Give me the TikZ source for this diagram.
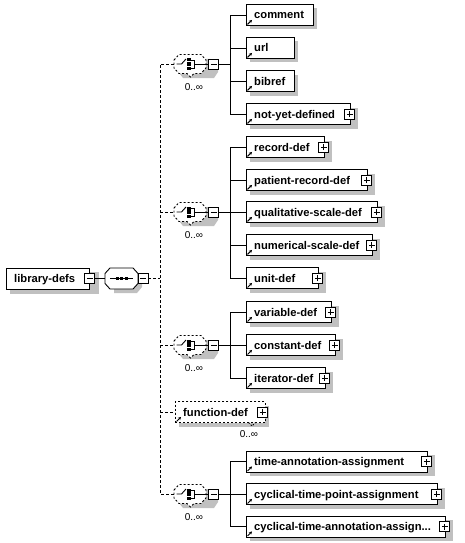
\documentclass[tikz,border=0pt]{standalone}
\usepackage{fontspec}
\setmainfont{Liberation Sans}
\usetikzlibrary{arrows.meta}
\definecolor{shg}{RGB}{192,192,192}
\tikzset{
  x=1pt,y=-1pt,
  shadowfill/.style={fill=shg,draw=none},
  ebox/.style={draw,fill=white,line width=0.9pt,minimum height=21pt,inner sep=0pt,anchor=west},
  fbox/.style={ebox,dash pattern=on 2pt off 2pt},
  etext/.style={font=\bfseries\fontsize{11.2}{13}\selectfont,anchor=base west,inner sep=0pt},
  occ/.style={font=\fontsize{10}{12}\selectfont,inner sep=0pt},
  pmbase/.style={draw,fill=white,line width=0.9pt,minimum size=10pt,inner sep=0pt},
  minusbox/.style={pmbase,path picture={\draw[line width=0.9pt] ([xshift=2pt]path picture bounding box.west) -- ([xshift=-2pt]path picture bounding box.east);}},
  plusbox/.style={pmbase,path picture={\draw[line width=0.9pt] ([xshift=2pt]path picture bounding box.west) -- ([xshift=-2pt]path picture bounding box.east) ([yshift=2pt]path picture bounding box.south) -- ([yshift=-2pt]path picture bounding box.north);}},
  wire/.style={line width=0.9pt},
  dwire/.style={line width=0.9pt,dash pattern=on 3pt off 2pt},
  refarrow/.style={line width=1pt,-{Stealth[length=3pt,width=3.2pt]}},
  compbox/.style={rectangle,draw=none,minimum width=32pt,minimum height=21pt,inner sep=0pt},
  seqline/.style={draw,fill=white,line width=0.9pt},
  chcline/.style={draw,fill=white,line width=0.9pt,dash pattern=on 2pt off 2pt},
}
\newcommand\elm[5]{%
  \ifnum#5=1\relax
    \fill[shadowfill] (250,#3-6.5) rectangle (#2+8,#3+14.5);
  \else
    \fill[shadowfill] (250,#3-6.5) rectangle (#2+4,#3+14.5);
  \fi
  \node[ebox,minimum width={(#2-246)*1pt}] (#1) at (246,#3) {};
  \node[etext] (#1-t) at (254,#3+4) {#4};
  \draw[refarrow] ([shift={(1.5pt,1.5pt)}]#1.south west) -- ++(4.5pt,4.5pt);
  \ifnum#5=1\relax\node[plusbox] (#1-p) at ([xshift=-1pt]#1.east) {};\fi
}
\newcommand\chc[2]{%
  \fill[shadowfill] (179,#2-5) -- (210,#2-5) -- (214,#2+1) -- (218,#2+1) -- (218,#2+8) -- (214,#2+14)
       -- (183,#2+14) -- (179,#2+9) -- cycle;
  \node[compbox] (#1) at (190,#2) {};
  \path[chcline] (174,#2-4) -- (179,#2-9.5) -- (201,#2-9.5) -- (206,#2-4) -- (206,#2+4)
     -- (201,#2+9.5) -- (194,#2+9.5) -- (190.5,#2+13) -- (187,#2+9.5) -- (179,#2+9.5) -- (174,#2+4) -- cycle;
  \draw[wire] (176.5,#2) -- (181.5,#2) -- (186,#2-5);
  \fill (187,#2-5.5) rectangle (190.5,#2-2.5);
  \fill (187,#2-1.75) rectangle (190.5,#2+1.75);
  \fill (187,#2+2.5) rectangle (190.5,#2+5.5);
  \draw[line width=0.9pt] (190.5,#2-4) -- (194,#2-4) -- (194,#2+4) -- (190.5,#2+4);
  \node[minusbox] (#1-m) at (213.5,#2) {};
  \draw[line width=0.9pt] (194,#2) -- (#1-m.west);
  \node[occ] (#1-o) at (194,#2+23) {0..∞};
}
\begin{document}
\begin{tikzpicture}
\useasboundingbox (0,0) rectangle (465,543);
\fill[shadowfill] (10,272) rectangle (99,293.5);
\node[ebox,minimum width=83pt] (lib) at (6,278.5) {};
\node[etext] (lib-t) at (14,282.5) {library-defs};
\node[minusbox] (lib-m) at (lib.east) {};
\fill[shadowfill] (114,272) -- (137,272) -- (142,278) -- (142,287) -- (137,293) -- (114,293) -- cycle;
\node[compbox,minimum width=33pt] (seq) at (121.5,278.5) {};
\path[seqline] (105,273.5) -- (110,268) -- (133,268) -- (138,273.5) -- (138,283.5) -- (133,289) -- (110,289) -- (105,283.5) -- cycle;
\draw[line width=1pt] (110,278.5) -- (133,278.5);
\fill (115.5,277) rectangle (118.5,280);
\fill (120,277) rectangle (123,280);
\fill (124.5,277) rectangle (127.5,280);
\node[minusbox] (seq-m) at (143,278.5) {};
\draw[wire] (lib-m.east) -- (seq.west);
\chc{c1}{64}
\chc{c2}{212}
\chc{c3}{345}
\chc{c4}{494}
\coordinate (j1) at (160,64);
\coordinate (j2) at (160,212);
\coordinate (j0) at (160,278.5);
\coordinate (j3) at (160,345);
\coordinate (jf) at (160,412);
\coordinate (j4) at (160,494);
\draw[dwire] (c1.west) -- (j1) -- (j4) -- (c4.west);
\draw[dwire] (j2) -- (c2.west);
\draw[dwire] (j3) -- (c3.west);
\draw[dwire] (seq-m.east) -- (j0);
\elm{comment}{313}{15}{comment}{0}
\elm{url}{294}{48}{url}{0}
\elm{bibref}{294}{81}{bibref}{0}
\elm{nyd}{350}{114}{not-yet-defined}{1}
\coordinate (g1) at (230,64);
\draw[wire] (c1-m.east) -- (g1);
\foreach \n in {comment,url,bibref,nyd} \draw[wire] (\n.west) -| (g1);
\elm{rec}{324}{147}{record-def}{1}
\elm{prec}{367}{180}{patient-record-def}{1}
\elm{qual}{377}{212}{qualitative-scale-def}{1}
\elm{num}{372}{245}{numerical-scale-def}{1}
\elm{unit}{318}{278}{unit-def}{1}
\coordinate (g2) at (230,212);
\draw[wire] (c2-m.east) -- (g2);
\foreach \n in {rec,prec,qual,num,unit} \draw[wire] (\n.west) -| (g2);
\elm{var}{331}{312}{variable-def}{1}
\elm{const}{335}{345}{constant-def}{1}
\elm{iter}{325}{378}{iterator-def}{1}
\coordinate (g3) at (230,345);
\draw[wire] (c3-m.east) -- (g3);
\foreach \n in {var,const,iter} \draw[wire] (\n.west) -| (g3);
\fill[shadowfill] (179,405.5) rectangle (269,426.5);
\node[fbox,minimum width=90pt] (fdef) at (175,412) {};
\node[etext] (fdef-t) at (183,416) {function-def};
\draw[refarrow] ([shift={(1.5pt,1.5pt)}]fdef.south west) -- ++(4.5pt,4.5pt);
\node[plusbox] (fdef-p) at ([xshift=-3pt]fdef.east) {};
\draw[line width=0.8pt,dash pattern=on 1.5pt off 1.5pt] (248.5,422.5) -- (252,426) -- (255.5,422.5);
\node[occ] (fdef-o) at (249,434) {0..∞};
\draw[dwire] (jf) -- (fdef.west);
\elm{taa}{427}{461.5}{time-annotation-assignment}{1}
\elm{ctpa}{437}{494}{cyclical-time-point-assignment}{1}
\elm{ctaa}{445}{526.5}{cyclical-time-annotation-assign...}{1}
\coordinate (g4) at (230,494);
\draw[wire] (c4-m.east) -- (g4);
\foreach \n in {taa,ctpa,ctaa} \draw[wire] (\n.west) -| (g4);
\end{tikzpicture}
\end{document}
